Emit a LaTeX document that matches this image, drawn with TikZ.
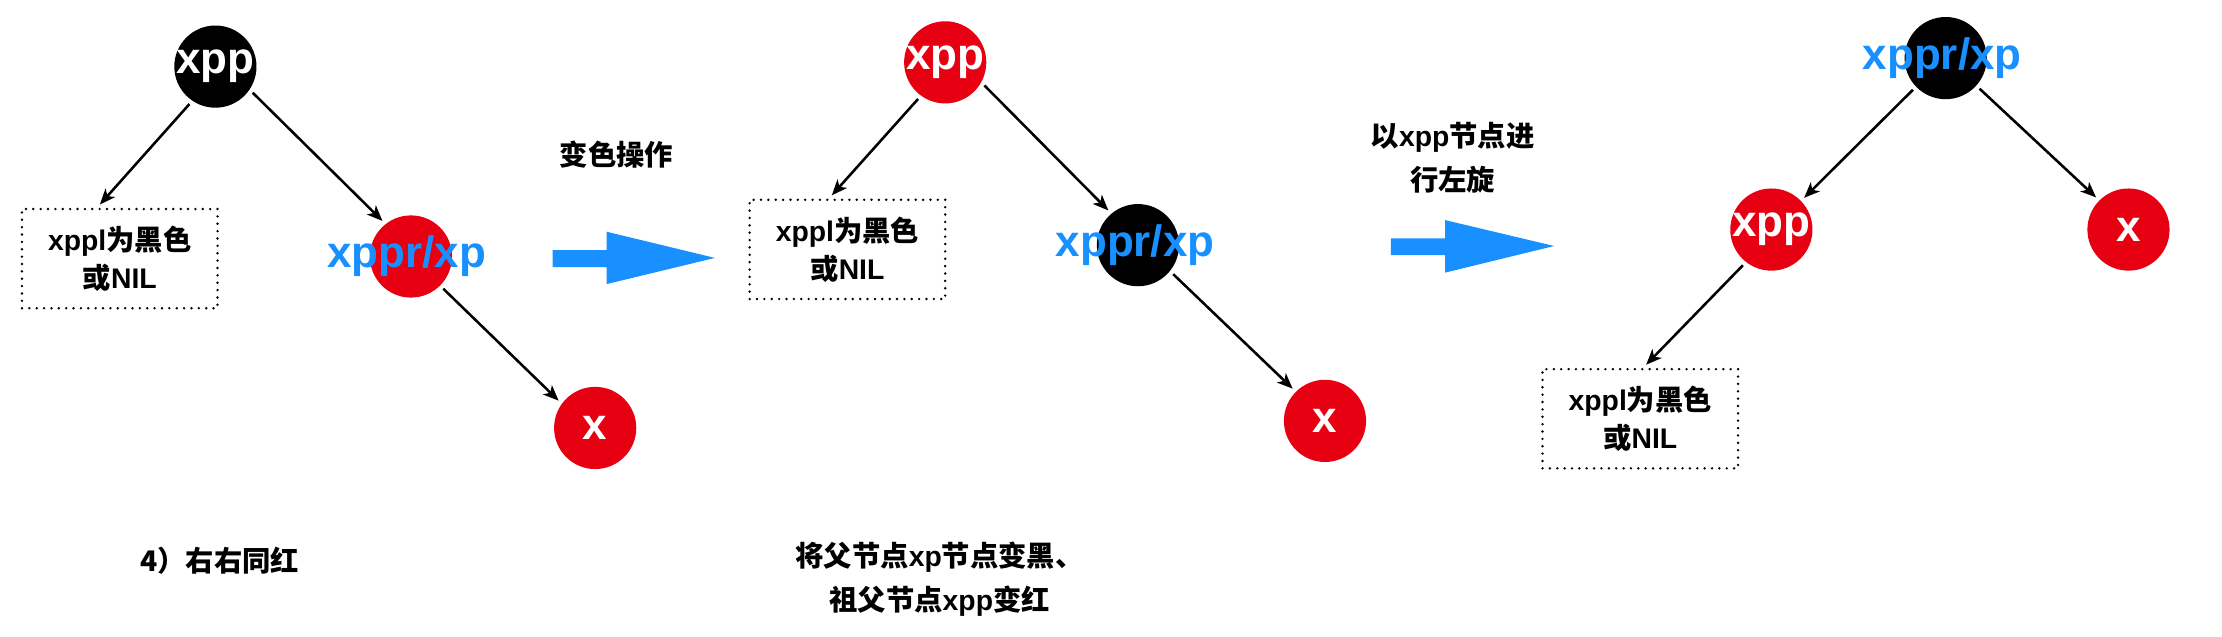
\documentclass[tikz,border=0pt]{standalone}
\usepackage{fontspec}
\setmainfont{Noto Sans CJK SC}
\newfontfamily\latn{Liberation Sans}[UprightFont={* Bold},BoldFont={* Bold}]
\usetikzlibrary{arrows.meta,calc}
\definecolor{rbred}{RGB}{230,0,18}
\definecolor{rbblue}{RGB}{24,144,255}
\begin{document}
\begin{tikzpicture}[x=1pt,y=-1pt,
  rbnode/.style={circle,minimum size=58pt,inner sep=0pt},
  rnode/.style={rbnode,fill=rbred},
  bnode/.style={rbnode,fill=black},
  wlab/.style={text=white,inner sep=0pt,font=\fontsize{31}{31}\selectfont\latn},
  blab/.style={text=rbblue,inner sep=0pt,font=\fontsize{31}{31}\selectfont\latn},
  nilbox/.style={draw,line width=1.9pt,dash pattern=on 0pt off 5.2pt,line cap=round,minimum width=138pt,minimum height=70pt,align=center,font=\fontsize{20}{27}\selectfont\bfseries},
  captext/.style={align=center,inner sep=0pt,font=\fontsize{20}{31}\selectfont\bfseries},
  edge/.style={line width=1.8pt,-{Stealth[length=11pt,width=9pt,inset=3pt]},shorten <=3pt,shorten >=3pt},
  bigarrow/.style={fill=rbblue}]
\useasboundingbox (0,0) rectangle (1568,449);

% ---------- panel 1 ----------
\node[bnode] (xppA) at (152,47) {};
\node[wlab] at (xppA) {xpp};
\node[nilbox] (boxA) at (84.5,182.5) {{\latn xppl}为黑色\\或{\latn NIL}};
\node[rnode] (xpA) at (290,181) {};
\node[blab] at ([xshift=-3pt]xpA.center) {xppr/xp};
\node[rnode] (xA) at (420,302) {};
\node[wlab] at (xA) {x};
\draw[edge] (xppA.-124) -- ([xshift=-16pt]boxA.north);
\draw[edge] (xppA.-34) -- (xpA.128);
\draw[edge] (xpA.-45) -- (xA.144);
\node[captext] (capA) at (155,396) {4）右右同红};

% blue arrow 1
\node[captext] (opA) at (435,109) {变色操作};
\fill[bigarrow] (390,176.5) -- (428,176.5) -- (428,163.5) -- (504.5,182) -- (428,200.5) -- (428,188.5) -- (390,188.5) -- cycle;

% ---------- panel 2 ----------
\node[rnode] (xppB) at (667,44) {};
\node[wlab] at (xppB) {xpp};
\node[nilbox] (boxB) at (598,176) {{\latn xppl}为黑色\\或{\latn NIL}};
\node[bnode] (xpB) at (803,173) {};
\node[blab] at ([xshift=-2pt]xpB.center) {xppr/xp};
\node[rnode] (xB) at (935,297) {};
\node[wlab] at (xB) {x};
\draw[edge] (xppB.-126) -- ([xshift=-13pt]boxB.north);
\draw[edge] (xppB.-29) -- (xpB.130);
\draw[edge] (xpB.-39) -- (xB.135);
\node[captext] (capB) at (663,408.5) {将父节点{\latn xp}节点变黑、\\祖父节点{\latn xpp}变红};

% blue arrow 2
\node[captext] (opB) at (1025,111) {以{\latn xpp}节点进\\行左旋};
\fill[bigarrow] (981.5,168.2) -- (1019.7,168.2) -- (1019.7,155.3) -- (1096.7,173.6) -- (1019.7,192.4) -- (1019.7,180) -- (981.5,180) -- cycle;

% ---------- panel 3 ----------
\node[bnode] (xpC) at (1373,41) {};
\node[blab] at ([xshift=-2.5pt]xpC.center) {xppr/xp};
\node[rnode] (xppC) at (1250,162) {};
\node[wlab] at (xppC) {xpp};
\node[rnode] (xC) at (1502,162) {};
\node[wlab] at (xC) {x};
\node[nilbox] (boxC) at (1157.5,295.5) {{\latn xppl}为黑色\\或{\latn NIL}};
\draw[edge] (xpC.-136) -- (xppC.44);
\draw[edge] (xpC.-42) -- (xC.135);
\draw[edge] (xppC.-128) -- ([xshift=2pt]boxC.north);
\end{tikzpicture}
\end{document}
